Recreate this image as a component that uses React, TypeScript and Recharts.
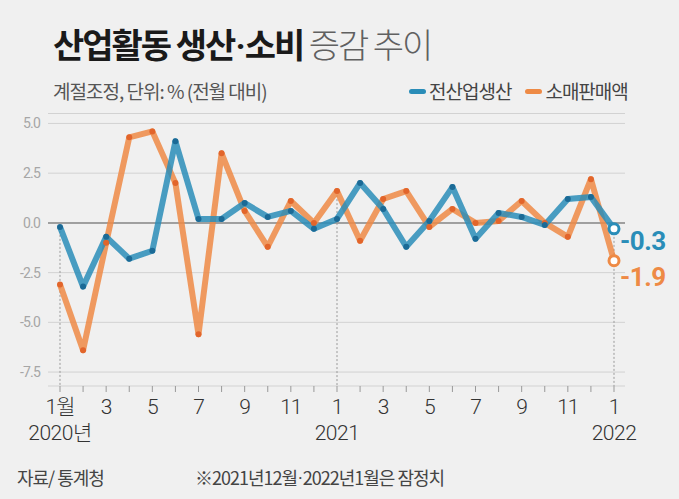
import { LineChart, Line, XAxis, YAxis, CartesianGrid, ReferenceLine, LabelList } from 'recharts'

// 2020.1 ~ 2022.1, 전월 대비 증감률 (%)
const monthLabels = ['1월', '', '3', '', '5', '', '7', '', '9', '', '11', '', '1', '', '3', '', '5', '', '7', '', '9', '', '11', '', '1']
const yearLabels = ['2020년', '', '', '', '', '', '', '', '', '', '', '', '2021', '', '', '', '', '', '', '', '', '', '', '', '2022']
const production = [-0.2, -3.2, -0.7, -1.8, -1.4, 4.1, 0.2, 0.2, 1.0, 0.3, 0.6, -0.3, 0.2, 2.0, 0.7, -1.2, 0.1, 1.8, -0.8, 0.5, 0.3, -0.1, 1.2, 1.3, -0.3]
const retail = [-3.1, -6.4, -1.0, 4.3, 4.6, 2.0, -5.6, 3.5, 0.6, -1.2, 1.1, 0.0, 1.6, -0.9, 1.2, 1.6, -0.2, 0.7, 0.0, 0.1, 1.1, 0.0, -0.7, 2.2, -1.9]
const yTicks = [5, 2.5, 0, -2.5, -5, -7.5]
const yearStarts = [0, 12, 24]

const BLUE = '#2a8db8'
const BLUE_DOT = '#1b6a96'
const ORANGE = '#ee8a45'
const ORANGE_DOT = '#e2652b'
const KR = "'Noto Sans CJK KR', 'Noto Sans', sans-serif"
const NUM = "Roboto, 'Noto Sans CJK KR', sans-serif"

const data = monthLabels.map((m, i) => ({ idx: i, production: production[i], retail: retail[i] }))
const last = data.length - 1

function MonthTick(props: any) {
  const { x, y, payload } = props
  const i = payload.index
  return (
    <g>
      <text x={x} y={y + 20} textAnchor="middle" fontSize={21} fill="#333" fontFamily={NUM} fontWeight={300} letterSpacing={-1}>
        {monthLabels[i]}
      </text>
      <text x={x} y={y + 46} textAnchor="middle" fontSize={21} fill="#333" fontFamily={NUM} fontWeight={300} letterSpacing={-0.5}>
        {yearLabels[i]}
      </text>
    </g>
  )
}

function makeDot(fillColor: string, strokeColor: string) {
  return (props: any) => {
    const { cx, cy, index } = props
    if (index === last) {
      return <circle key={index} cx={cx} cy={cy} r={5} fill="#fff" stroke={strokeColor} strokeWidth={3} />
    }
    return <circle key={index} cx={cx} cy={cy} r={3} fill={fillColor} />
  }
}

function makeEndLabel(color: string, dy: number) {
  return (props: any) => {
    const { x, y, index, value } = props
    if (index !== last) return null
    return (
      <text x={x + 6} y={y + dy} fontSize={26} fontWeight={700} fill={color} fontFamily={NUM} letterSpacing={-0.5}>
        {value.toFixed(1)}
      </text>
    )
  }
}

const dotStyle = { fontFamily: 'Roboto, sans-serif', margin: '0 1px' }

export default function App() {
  return (
    <div style={{ position: 'absolute', left: 0, top: 0, width: 679, height: 499, background: '#f0f0f0', overflow: 'hidden' }}>
      <div style={{ position: 'absolute', left: 53, top: 27, fontFamily: KR, fontSize: 34, lineHeight: '34px', whiteSpace: 'nowrap', letterSpacing: -2 }}>
        <span style={{ fontWeight: 700, color: '#1a1a1a' }}>
          산업활동 생산<span style={dotStyle}>·</span>소비
        </span>
        <span style={{ fontWeight: 300, color: '#606060' }}> 증감 추이</span>
      </div>
      <div style={{ position: 'absolute', left: 53, top: 80, fontFamily: KR, fontSize: 19, lineHeight: '22px', color: '#555', letterSpacing: -1, whiteSpace: 'nowrap' }}>
        계절조정, 단위: % (전월 대비)
      </div>
      <div style={{ position: 'absolute', left: 409, top: 80, fontFamily: KR, fontSize: 19, lineHeight: '22px', color: '#444', letterSpacing: -1, whiteSpace: 'nowrap', display: 'flex', alignItems: 'center' }}>
        <span style={{ display: 'inline-block', width: 17, height: 5, borderRadius: 3, background: BLUE, marginRight: 3 }} />
        <span>전산업생산</span>
        <span style={{ display: 'inline-block', width: 17, height: 5, borderRadius: 3, background: ORANGE, marginLeft: 14, marginRight: 3 }} />
        <span>소매판매액</span>
      </div>

      <div style={{ position: 'absolute', left: 0, top: 0 }}>
        <LineChart width={679} height={499} data={data} margin={{ top: 113.5, right: 54, bottom: 53, left: 0 }}>
          <CartesianGrid vertical={false} stroke="#d2d2d2" />
          <XAxis
            dataKey="idx"
            type="category"
            interval={0}
            height={60}
            padding={{ left: 12, right: 11 }}
            axisLine={false}
            tickLine={{ stroke: '#999' }}
            tickSize={6}
            tick={MonthTick}
          />
          <YAxis
            width={48}
            domain={[-8.2, 5.5]}
            ticks={yTicks}
            axisLine={false}
            tickLine={false}
            tickFormatter={(v: number) => v.toFixed(1)}
            tick={{ fontSize: 14, fill: '#a6a6a6', fontFamily: NUM, letterSpacing: -0.8 }}
          />
          <ReferenceLine y={0} stroke="#8a8a8a" strokeWidth={1.5} />
          {yearStarts.map((i) => (
            <ReferenceLine
              key={i}
              segment={[{ x: i, y: Math.max(production[i], retail[i]) }, { x: i, y: -8.2 }]}
              stroke="#999"
              strokeDasharray="2 2"
              strokeWidth={1}
            />
          ))}
          <Line
            dataKey="retail"
            stroke={ORANGE}
            strokeOpacity={0.85}
            strokeWidth={6}
            strokeLinejoin="round"
            type="linear"
            dot={makeDot(ORANGE_DOT, ORANGE)}
            isAnimationActive={false}
          >
            <LabelList dataKey="retail" content={makeEndLabel(ORANGE, 25)} />
          </Line>
          <Line
            dataKey="production"
            stroke={BLUE}
            strokeOpacity={0.85}
            strokeWidth={6}
            strokeLinejoin="round"
            type="linear"
            dot={makeDot(BLUE_DOT, BLUE)}
            isAnimationActive={false}
          >
            <LabelList dataKey="production" content={makeEndLabel(BLUE, 21)} />
          </Line>
        </LineChart>
      </div>

      <div style={{ position: 'absolute', left: 17, top: 466, fontFamily: KR, fontSize: 18, lineHeight: '22px', color: '#444', letterSpacing: -1, whiteSpace: 'nowrap' }}>
        자료/ 통계청
      </div>
      <div style={{ position: 'absolute', left: 195, top: 466, fontFamily: KR, fontSize: 18, lineHeight: '22px', color: '#444', letterSpacing: -1, whiteSpace: 'nowrap' }}>
        ※2021년12월<span style={dotStyle}>·</span>2022년1월은 잠정치
      </div>
    </div>
  )
}
